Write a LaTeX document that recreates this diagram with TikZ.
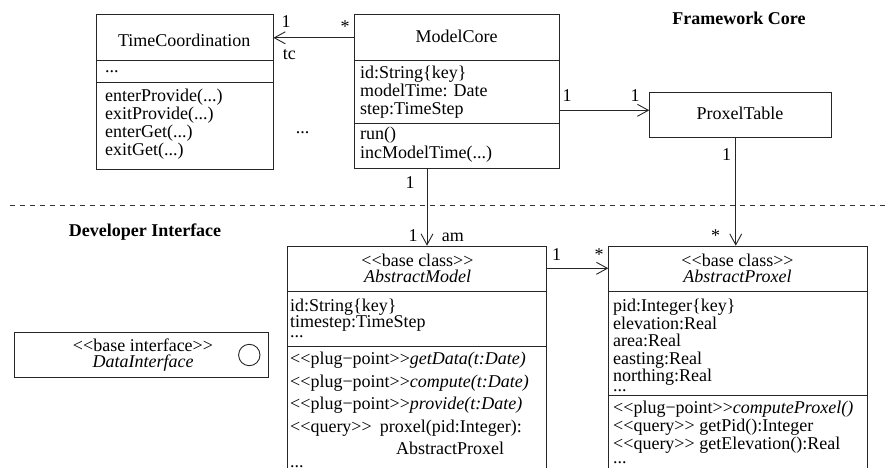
\documentclass[tikz,border=0pt]{standalone}
\usepackage{fontspec}
\setmainfont{Liberation Serif}[Ligatures=TeXOff]
\usetikzlibrary{arrows.meta,calc}
\tikzset{
  every node/.style={font=\fontsize{18}{18}\selectfont, text=black},
  classbox/.style={draw=black!85, line width=0.9pt, anchor=north west, inner sep=0pt},
  divider/.style={draw=black!85, line width=0.9pt},
  ln/.style={anchor=base west, inner sep=0pt},
  ctr/.style={anchor=base, inner sep=0pt},
  lbl/.style={anchor=base, inner sep=0pt},
  assoc/.style={draw=black!85, line width=0.9pt, -{Straight Barb[length=11pt,width=12pt,line width=0.9pt]}},
  sep/.style={draw=black!80, line width=0.8pt, dash pattern=on 5pt off 5pt}
}
\newcommand{\stOpen}{\char"3C\char"3C}
\newcommand{\stClose}{\char"3E\char"3E}
\begin{document}
\begin{tikzpicture}[x=1pt,y=-1pt]
\useasboundingbox (0,0) rectangle (888,468);
\clip (0,0) rectangle (888,468);

% headings
\node[ctr] (hfc) at (739,25) {\textbf{Framework Core}};
\node[ctr] (hdi) at (145,236.7) {\textbf{Developer Interface}};
\path[sep] (10,205) -- (888,205);

% TimeCoordination
\node[classbox, minimum width=176.5pt, minimum height=155pt] (tc) at (96,14) {};
\draw[divider] ($(tc.north west)+(0,46.3)$) -- ($(tc.north east)+(0,46.3)$);
\draw[divider] ($(tc.north west)+(0,68.3)$) -- ($(tc.north east)+(0,68.3)$);
\node[ctr] (tcn) at (184.2,47) {TimeCoordination};
\node[ln] (tca) at (105,73) {...};
\node[ln] (tco1) at (105,101.7) {enterProvide(...)};
\node[ln] (tco2) at (105,119.3) {exitProvide(...)};
\node[ln] (tco3) at (105,137.3) {enterGet(...)};
\node[ln] (tco4) at (105,155) {exitGet(...)};

\node[ctr] (dots) at (302.5,133) {...};

% ModelCore
\node[classbox, minimum width=204.4pt, minimum height=154pt] (mc) at (354.3,14.3) {};
\draw[divider] ($(mc.north west)+(0,46)$) -- ($(mc.north east)+(0,46)$);
\draw[divider] ($(mc.north west)+(0,109)$) -- ($(mc.north east)+(0,109)$);
\node[ctr] (mcn) at (456.5,43) {ModelCore};
\node[ln] (mca1) at (360,78.7) {id:String\{key\}};
\node[ln] (mca2) at (360,96.7) {modelTime: Date};
\node[ln] (mca3) at (360,115) {step:TimeStep};
\node[ln] (mco1) at (360,139.5) {run()};
\node[ln] (mco2) at (360,158.3) {incModelTime(...)};

% ProxelTable
\node[classbox, minimum width=181.4pt, minimum height=45pt] (pt) at (649.3,91.7) {};
\node[ctr] (ptn) at (740,119.3) {ProxelTable};

% AbstractModel
\node[classbox, minimum width=259pt, minimum height=240pt] (am) at (286.7,245.7) {};
\draw[divider] ($(am.north west)+(0,46)$) -- ($(am.north east)+(0,46)$);
\draw[divider] ($(am.north west)+(0,100.3)$) -- ($(am.north east)+(0,100.3)$);
\node[ctr] (amh1) at (417.5,266) {\stOpen base class\stClose};
\node[ctr] (amh2) at (417.5,282) {\textit{AbstractModel}};
\node[ln] (ama1) at (290,311.2) {id:String\{key\}};
\node[ln] (ama2) at (290,327.5) {timestep:TimeStep};
\node[ln] (ama3) at (290,337.5) {...};
\node[ln] (amo1) at (290,364.5) {\stOpen plug−point\stClose\textit{getData(t:Date)}};
\node[ln] (amo2) at (290,387) {\stOpen plug−point\stClose\textit{compute(t:Date)}};
\node[ln] (amo3) at (290,409.5) {\stOpen plug−point\stClose\textit{provide(t:Date)}};
\node[ln] (amo4) at (290,432) {\stOpen query\stClose\hspace{8pt}proxel(pid:Integer):};
\node[ln] (amo5) at (396,454) {AbstractProxel};
\node[ln] (amo6) at (290,467) {...};

% AbstractProxel
\node[classbox, minimum width=258.5pt, minimum height=240pt] (ap) at (608.3,245.7) {};
\draw[divider] ($(ap.north west)+(0,46)$) -- ($(ap.north east)+(0,46)$);
\draw[divider] ($(ap.north west)+(0,150)$) -- ($(ap.north east)+(0,150)$);
\node[ctr] (aph1) at (737.5,266) {\stOpen base class\stClose};
\node[ctr] (aph2) at (737.5,282) {\textit{AbstractProxel}};
\node[ln] (apa1) at (613,311.5) {pid:Integer\{key\}};
\node[ln] (apa2) at (613,329) {elevation:Real};
\node[ln] (apa3) at (613,346.5) {area:Real};
\node[ln] (apa4) at (613,364) {easting:Real};
\node[ln] (apa5) at (613,381.5) {northing:Real};
\node[ln] (apa6) at (613,391.5) {...};
\node[ln] (apo1) at (613,413) {\stOpen plug−point\stClose\textit{computeProxel()}};
\node[ln] (apo2) at (613,431) {\stOpen query\stClose{} getPid():Integer};
\node[ln] (apo3) at (613,449) {\stOpen query\stClose{} getElevation():Real};
\node[ln] (apo4) at (613,463.5) {...};

% DataInterface
\node[classbox, minimum width=254.3pt, minimum height=45.6pt] (di) at (14,331.7) {};
\node[ctr] (dih1) at (143,351) {\stOpen base interface\stClose};
\node[ctr] (dih2) at (143,367.3) {\textit{DataInterface}};
\node[draw=black!85, line width=0.9pt, circle, minimum size=21.4pt, inner sep=0pt] (dic) at (249.3,355) {};

% connectors
\coordinate (mcl) at ($(mc.north west)+(0,23.5)$);
\draw[assoc] (mcl) -- (mcl -| tc.east);
\coordinate (mcr) at ($(mc.north east)+(0,96)$);
\draw[assoc] (mcr) -- (mcr -| pt.west);
\coordinate (mcb) at ($(mc.south west)+(72.7,0)$);
\draw[assoc] (mcb) -- (mcb |- am.north);
\coordinate (ptb) at ($(pt.south)+(-4.7,0)$);
\draw[assoc] (ptb) -- (ptb |- ap.north);
\coordinate (amr) at ($(am.north east)+(0,22.6)$);
\draw[assoc] (amr) -- (amr -| ap.west);

% multiplicities and roles
\node[lbl] (l1) at (286,27.3) {1};
\node[lbl] (l2) at (345,33) {*};
\node[ln] (l3) at (282.7,60) {tc};
\node[lbl] (l4) at (567,101.7) {1};
\node[lbl] (l5) at (635,101.7) {1};
\node[lbl] (l6) at (410,188) {1};
\node[lbl] (l7) at (413,241.7) {1};
\node[ln] (l8) at (441.7,241.7) {am};
\node[lbl] (l9) at (726.7,160) {1};
\node[lbl] (l10) at (715.5,241) {*};
\node[lbl] (l11) at (556.7,260) {1};
\node[lbl] (l12) at (599,260) {*};
\end{tikzpicture}
\end{document}
